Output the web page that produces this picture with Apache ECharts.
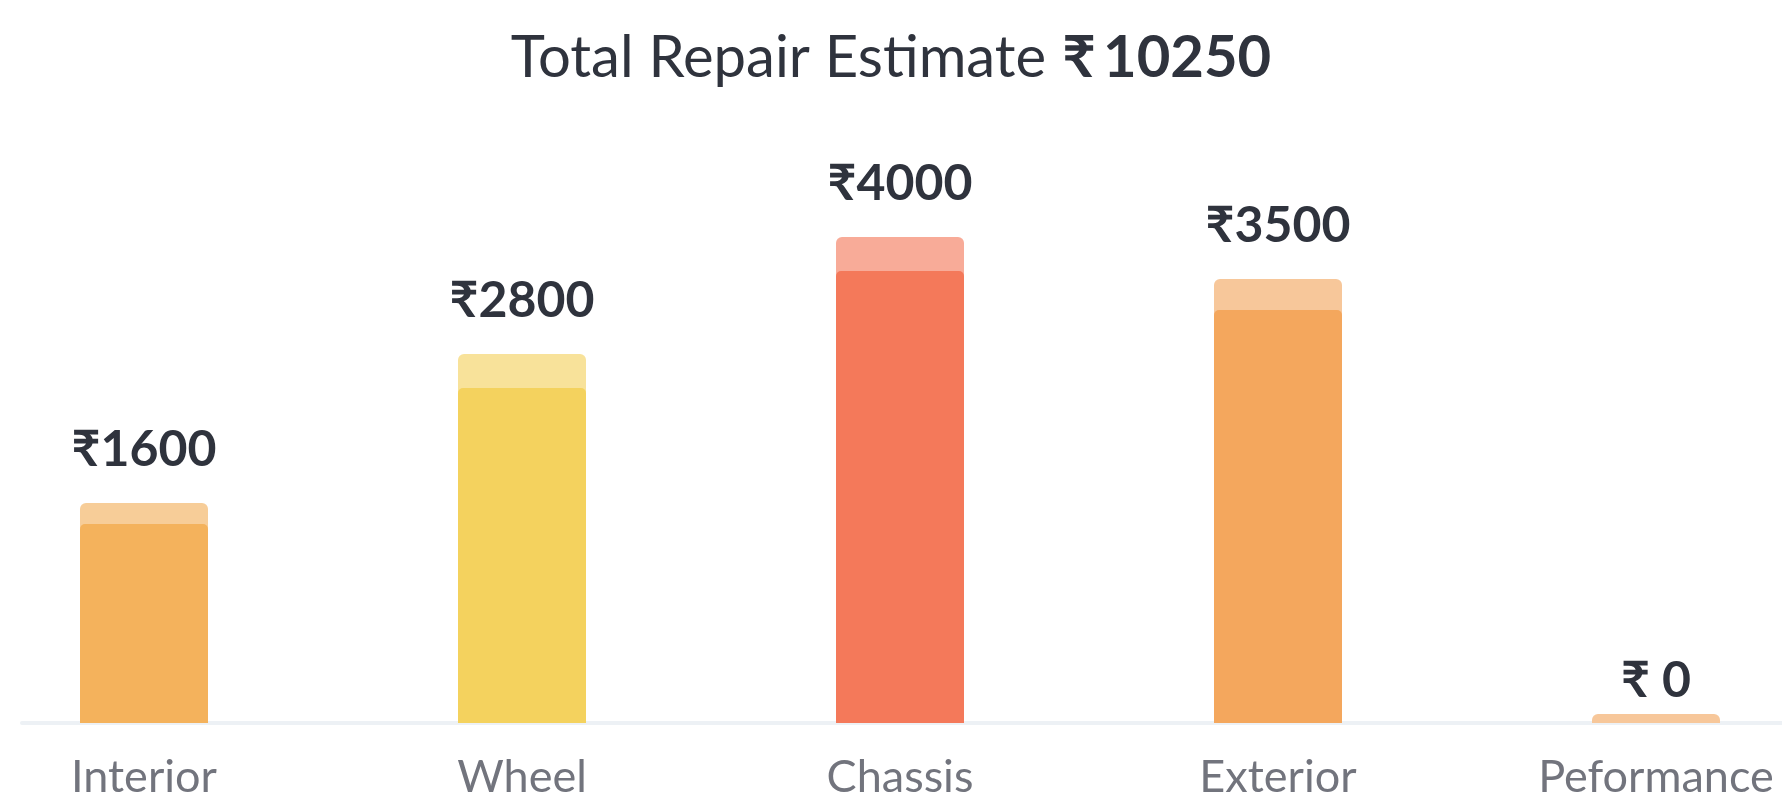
<!DOCTYPE html>
<html>
<head>
<meta charset="utf-8">
<title>Total Repair Estimate</title>
<script src="https://cdn.jsdelivr.net/npm/echarts@6/dist/echarts.min.js"></script>
<style>
	html, body { margin: 0; padding: 0; background: #fff; }
	#chart1 { width: 1782px; height: 799px; }
</style>
</head>
<body>
<div id="chart1"></div>
<script>
var categoryList = ['Interior', 'Wheel', 'Chassis', 'Exterior', 'Peformance'];
var costList = [1600, 2800, 4000, 3500, 0];
var totalEstimate = 10250;
// bar levels as drawn (the picture is not to scale with the costs)
var capLevelList = [220, 369, 486, 444, 9];
var fillLevelList = [199, 335, 452, 413, 0];
var fillColorList = ['#F4B25C', '#F4D25E', '#F4795A', '#F4A75D', '#F4A75D'];
var capColorList = ['#F7CD98', '#F8E29A', '#F8AB98', '#F7C79A', '#F7C79A'];

var fontFamily = "Lato, 'Noto Sans', sans-serif";

var chart1 = echarts.init(document.getElementById('chart1'));

var capData = [];
var fillData = [];
for (var i = 0; i < categoryList.length; i++) {
	capData.push({
		value: capLevelList[i],
		itemStyle: { color: capColorList[i] },
		label: { distance: costList[i] == 0 ? 8 : 28 }
	});
	fillData.push({
		value: fillLevelList[i],
		itemStyle: { color: fillColorList[i] }
	});
}

var option = {
	animation: false,
	title: {
		left: 'center',
		top: 24,
		text: '{a|Total Repair Estimate} {b|₹\u2009' + totalEstimate + '}',
		textStyle: {
			fontWeight: 'normal',
			fontSize: 58,
			rich: {
				a: { fontSize: 58, color: '#2F333D', fontWeight: 'normal', fontFamily: fontFamily },
				b: { fontSize: 58, color: '#2F333D', fontWeight: 'bold', fontFamily: fontFamily }
			}
		}
	},
	grid: [{
		left: -45, width: 1890, top: 223, bottom: 76,
		containLabel: false, outerBoundsMode: 'none'
	}, {
		left: 22, right: 0, top: 223, bottom: 76,
		containLabel: false, outerBoundsMode: 'none'
	}],
	xAxis: [{
		type: 'category',
		gridIndex: 0,
		data: categoryList,
		axisLine: { show: false },
		axisTick: { show: false },
		axisLabel: {
			margin: 32,
			fontSize: 45,
			color: '#72747D',
			fontFamily: fontFamily,
			hideOverlap: false
		}
	}, {
		type: 'category',
		gridIndex: 1,
		data: categoryList,
		axisLine: { show: true, lineStyle: { color: '#EDF1F5', width: 4 } },
		axisTick: { show: false },
		axisLabel: { show: false }
	}],
	yAxis: [{
		type: 'value', gridIndex: 0, min: 0, max: 500, show: false
	}, {
		type: 'value', gridIndex: 1, min: 0, max: 500, show: false
	}],
	series: [{
		name: 'cap',
		type: 'bar',
		barWidth: 128,
		barGap: '-100%',
		z: 3,
		itemStyle: { borderRadius: [6, 6, 0, 0] },
		label: {
			show: true,
			position: 'top',
			fontSize: 50,
			fontWeight: 'bold',
			color: '#2F333D',
			fontFamily: fontFamily,
			formatter: function(p) {
				var c = costList[p.dataIndex];
				return c == 0 ? '₹ 0' : '₹' + c;
			}
		},
		data: capData
	}, {
		name: 'fill',
		type: 'bar',
		barWidth: 128,
		barGap: '-100%',
		z: 4,
		itemStyle: { borderRadius: [5, 5, 0, 0] },
		data: fillData
	}]
};

chart1.setOption(option);
</script>
</body>
</html>
